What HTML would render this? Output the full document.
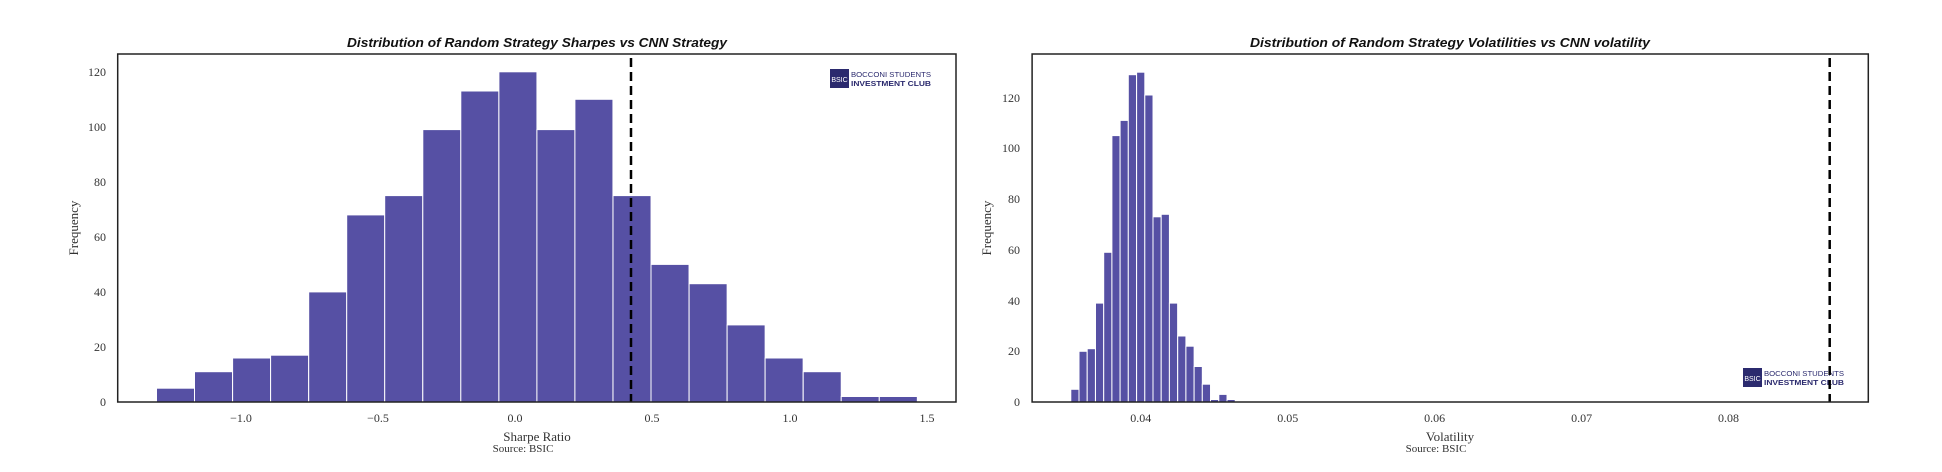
<!DOCTYPE html>
<html><head><meta charset="utf-8"><style>
html,body{margin:0;padding:0;background:#fff;}
svg{display:block;}
.t{font-family:"Liberation Serif",serif;font-size:12px;fill:#333;}
.ti{font-family:"Liberation Sans",sans-serif;font-size:13px;font-weight:bold;font-style:italic;fill:#111;}
.b rect{fill:#5650A4;stroke:#fff;stroke-width:1;}
</style></head><body>
<svg width="1942" height="472" viewBox="0 0 1942 472" xmlns="http://www.w3.org/2000/svg">
<!-- LEFT -->
<text class="ti" x="537" y="47" text-anchor="middle" textLength="380" lengthAdjust="spacingAndGlyphs">Distribution of Random Strategy Sharpes vs CNN Strategy</text>
<g class="b">
<rect x="156.5" y="388.2" width="38.04" height="13.8"/>
<rect x="194.5" y="371.7" width="38.04" height="30.3"/>
<rect x="232.6" y="358" width="38.04" height="44"/>
<rect x="270.6" y="355.2" width="38.04" height="46.8"/>
<rect x="308.7" y="291.9" width="38.04" height="110.1"/>
<rect x="346.7" y="214.9" width="38.04" height="187.1"/>
<rect x="384.7" y="195.6" width="38.04" height="206.4"/>
<rect x="422.8" y="129.6" width="38.04" height="272.4"/>
<rect x="460.8" y="91" width="38.04" height="311"/>
<rect x="498.9" y="71.8" width="38.04" height="330.2"/>
<rect x="536.9" y="129.6" width="38.04" height="272.4"/>
<rect x="574.9" y="99.3" width="38.04" height="302.7"/>
<rect x="613" y="195.6" width="38.04" height="206.4"/>
<rect x="651" y="264.4" width="38.04" height="137.6"/>
<rect x="689.1" y="283.7" width="38.04" height="118.3"/>
<rect x="727.1" y="324.9" width="38.04" height="77.1"/>
<rect x="765.1" y="358" width="38.04" height="44"/>
<rect x="803.2" y="371.7" width="38.04" height="30.3"/>
<rect x="841.2" y="396.5" width="38.04" height="5.5"/>
<rect x="879.3" y="396.5" width="38.04" height="5.5"/>
</g>
<line x1="631" y1="58" x2="631" y2="402" stroke="#000" stroke-width="2.5" stroke-dasharray="9,5"/>
<rect x="117.7" y="54" width="838.3" height="348" fill="none" stroke="#222" stroke-width="1.5"/>
<g class="t" text-anchor="end">
<text x="106" y="406">0</text><text x="106" y="351">20</text><text x="106" y="296">40</text>
<text x="106" y="241">60</text><text x="106" y="186">80</text><text x="106" y="131">100</text><text x="106" y="76">120</text>
</g>
<g class="t" text-anchor="middle">
<text x="241" y="422">−1.0</text><text x="378" y="422">−0.5</text><text x="515" y="422">0.0</text>
<text x="652" y="422">0.5</text><text x="790" y="422">1.0</text><text x="927" y="422">1.5</text>
<text x="537" y="441" style="font-size:13px">Sharpe Ratio</text>
<text x="523" y="452" style="font-size:11px">Source: BSIC</text>
</g>
<text class="t" x="0" y="0" text-anchor="middle" style="font-size:13px" transform="translate(78,228) rotate(-90)">Frequency</text>
<g>
<rect x="830" y="69" width="19" height="19" fill="#2b2a6e"/>
<text x="839.5" y="82" text-anchor="middle" style="font-family:'Liberation Sans',sans-serif;font-size:7px;fill:#fff">BSIC</text>
<text x="851" y="77" style="font-family:'Liberation Sans',sans-serif;font-size:7.5px;fill:#2b2a6e" textLength="80" lengthAdjust="spacingAndGlyphs">BOCCONI STUDENTS</text>
<text x="851" y="86" style="font-family:'Liberation Sans',sans-serif;font-size:7.5px;font-weight:bold;fill:#2b2a6e" textLength="80" lengthAdjust="spacingAndGlyphs">INVESTMENT CLUB</text>
</g>

<!-- RIGHT -->
<text class="ti" x="1450" y="47" text-anchor="middle" textLength="400" lengthAdjust="spacingAndGlyphs">Distribution of Random Strategy Volatilities vs CNN volatility</text>
<g class="b">
<rect x="1070.8" y="389.3" width="8.22" height="12.7"/>
<rect x="1079.0" y="351.3" width="8.22" height="50.7"/>
<rect x="1087.2" y="348.7" width="8.22" height="53.3"/>
<rect x="1095.5" y="303.1" width="8.22" height="98.9"/>
<rect x="1103.7" y="252.3" width="8.22" height="149.7"/>
<rect x="1111.9" y="135.6" width="8.22" height="266.4"/>
<rect x="1120.1" y="120.4" width="8.22" height="281.6"/>
<rect x="1128.3" y="74.7" width="8.22" height="327.3"/>
<rect x="1136.6" y="72.2" width="8.22" height="329.8"/>
<rect x="1144.8" y="95" width="8.22" height="307"/>
<rect x="1153.0" y="216.8" width="8.22" height="185.2"/>
<rect x="1161.2" y="214.3" width="8.22" height="187.7"/>
<rect x="1169.4" y="303.1" width="8.22" height="98.9"/>
<rect x="1177.7" y="336" width="8.22" height="66"/>
<rect x="1185.9" y="346.2" width="8.22" height="55.8"/>
<rect x="1194.1" y="366.5" width="8.22" height="35.5"/>
<rect x="1202.3" y="384.2" width="8.22" height="17.8"/>
<rect x="1210.5" y="399.5" width="8.22" height="2.5"/>
<rect x="1218.8" y="394.4" width="8.22" height="7.6"/>
<rect x="1227.0" y="399.5" width="8.22" height="2.5"/>
</g>
<g>
<rect x="1743" y="368" width="19" height="19" fill="#2b2a6e"/>
<text x="1752.5" y="381" text-anchor="middle" style="font-family:'Liberation Sans',sans-serif;font-size:7px;fill:#fff">BSIC</text>
<text x="1764" y="376" style="font-family:'Liberation Sans',sans-serif;font-size:7.5px;fill:#2b2a6e" textLength="80" lengthAdjust="spacingAndGlyphs">BOCCONI STUDENTS</text>
<text x="1764" y="385" style="font-family:'Liberation Sans',sans-serif;font-size:7.5px;font-weight:bold;fill:#2b2a6e" textLength="80" lengthAdjust="spacingAndGlyphs">INVESTMENT CLUB</text>
</g>
<line x1="1829.7" y1="58" x2="1829.7" y2="402" stroke="#000" stroke-width="2.5" stroke-dasharray="9,5"/>
<rect x="1032.1" y="54" width="836.2" height="348" fill="none" stroke="#222" stroke-width="1.5"/>
<g class="t" text-anchor="end">
<text x="1020" y="406">0</text><text x="1020" y="355">20</text><text x="1020" y="305">40</text>
<text x="1020" y="254">60</text><text x="1020" y="203">80</text><text x="1020" y="152">100</text><text x="1020" y="102">120</text>
</g>
<g class="t" text-anchor="middle">
<text x="1140.7" y="422">0.04</text><text x="1287.7" y="422">0.05</text><text x="1434.6" y="422">0.06</text>
<text x="1581.6" y="422">0.07</text><text x="1728.5" y="422">0.08</text>
<text x="1450" y="441" style="font-size:13px">Volatility</text>
<text x="1436" y="452" style="font-size:11px">Source: BSIC</text>
</g>
<text class="t" x="0" y="0" text-anchor="middle" style="font-size:13px" transform="translate(991,228) rotate(-90)">Frequency</text>
</svg>
</body></html>
